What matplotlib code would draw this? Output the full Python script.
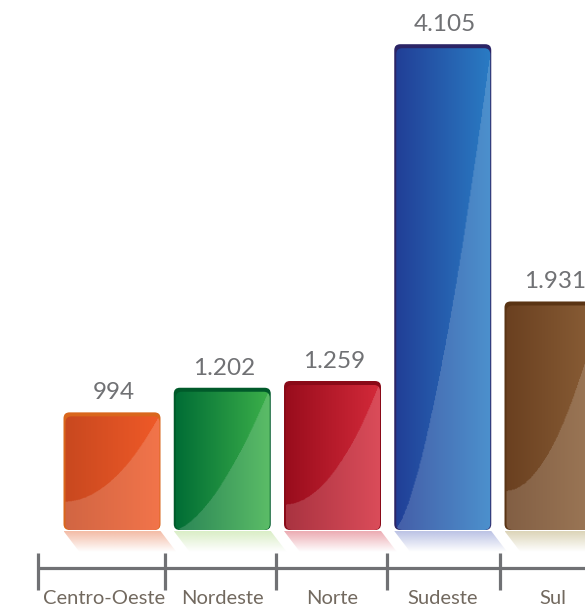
import numpy as np
import matplotlib
matplotlib.use('Agg')
import matplotlib.pyplot as plt
from matplotlib.patches import FancyBboxPatch, Polygon
from matplotlib.colors import to_rgb

regions = ['Centro-Oeste', 'Nordeste', 'Norte', 'Sudeste', 'Sul']
values = [994, 1202, 1259, 4105, 1931]

# colours: left of gradient, right of gradient, top border, reflection
left_colors = ['#c8481f', '#006c35', '#980c1c', '#213e96', '#6a4020']
right_colors = ['#f05a28', '#3cb04a', '#d42a3a', '#2a7cc4', '#8c6038']
border_colors = ['#d9661c', '#005a2a', '#8a0a18', '#2b2466', '#5a3414']
shadow_colors = ['#f2b49c', '#d6ecc0', '#eaa2aa', '#b4bce2', '#d8d0b0']
# shape of the glossy highlight curve (start height, exponent)
gloss_start = [0.24, 0.0, 0.17, 0.0, 0.17]
gloss_power = [2.0, 1.6, 2.0, 1.5, 2.0]

W, H, DPI = 585, 609, 100
PX_X = 110.25            # px per category step
K = 8.45                 # data units per px (vertical)
BASE_PX = 530            # pixel row of zero

fig = plt.figure(figsize=(W / DPI, H / DPI), dpi=DPI)
ax = fig.add_axes([0, 0, 1, 1])
ax.set_xlim(-112 / PX_X, (W - 112) / PX_X)
ax.set_ylim(-(H - BASE_PX) * K, BASE_PX * K)
ax.axis('off')

font = ['Lato', 'DejaVu Sans']
bar_w = 97 / PX_X
px_x = 1 / PX_X
aspect = K * PX_X


def gradient(left, right, a, p, nx=100, ny=300):
    u = np.linspace(0, 1, nx)[None, :, None]
    v = np.linspace(0, 1, ny)[:, None, None]
    l, r = np.array(to_rgb(left)), np.array(to_rgb(right))
    img = l * (1 - u) + r * u
    img = np.broadcast_to(img, (ny, nx, 3)).copy()
    mask = (v < a + (1 - a) * u ** p)[..., 0]
    img[mask] = img[mask] * 0.84 + 0.16
    return img


for i, (name, val) in enumerate(zip(regions, values)):
    x0 = i - bar_w / 2
    # outer (border) shape
    outer = FancyBboxPatch((x0, 0), bar_w, val,
                           boxstyle='round,pad=0,rounding_size=%f' % (6 * px_x),
                           mutation_aspect=aspect,
                           fc=border_colors[i], ec='none', zorder=2)
    ax.add_patch(outer)
    inner = FancyBboxPatch((x0 + 2 * px_x, 0), bar_w - 3 * px_x, val - 4 * K,
                           boxstyle='round,pad=0,rounding_size=%f' % (6 * px_x),
                           mutation_aspect=aspect,
                           fc='none', ec='none', zorder=3)
    ax.add_patch(inner)
    im = ax.imshow(gradient(left_colors[i], right_colors[i], gloss_start[i], gloss_power[i]),
                   origin='lower', extent=(x0, x0 + bar_w, 0, val), aspect='auto', zorder=3)
    im.set_clip_path(inner)

    # reflection under the bar
    dx = 16 * px_x
    hh = 22 * K
    poly = Polygon([(x0, -1 * K), (x0 + bar_w, -1 * K),
                    (x0 + bar_w + dx, -hh), (x0 + dx, -hh)],
                   closed=True, fc='none', ec='none')
    ax.add_patch(poly)
    sc = np.array(to_rgb(shadow_colors[i]))
    alpha = np.linspace(0, 0.9, 50)[:, None]
    refl = np.zeros((50, 2, 4))
    refl[..., :3] = sc
    refl[..., 3] = alpha
    rim = ax.imshow(refl, origin='lower', extent=(x0, x0 + bar_w + dx, -hh, -1 * K),
                    aspect='auto', zorder=1)
    rim.set_clip_path(poly)

    ax.text(i + 2 * px_x, val + 13 * K, f'{val:,}'.replace(',', '.'),
            ha='center', va='baseline', fontsize=17.5, color='#707174',
            family=font, zorder=4)
    ax.text(i - (8 * px_x if i == 0 else 0), -68 * K, name,
            ha='center', va='center', fontsize=14.5, color='#72695f',
            family=font, zorder=4)

# axis with separator ticks
axis_y = -38 * K
left_tick = (38 - 112) / PX_X
ax.plot([left_tick, 5], [axis_y, axis_y], color='#707174', lw=2.3,
        solid_capstyle='butt', zorder=4)
for t in [left_tick, 0.48, 1.49, 2.49, 3.52]:
    ax.plot([t, t], [-23 * K, -60 * K], color='#707174', lw=2.3,
            solid_capstyle='butt', zorder=4)

fig.savefig('out.png', dpi=DPI)
